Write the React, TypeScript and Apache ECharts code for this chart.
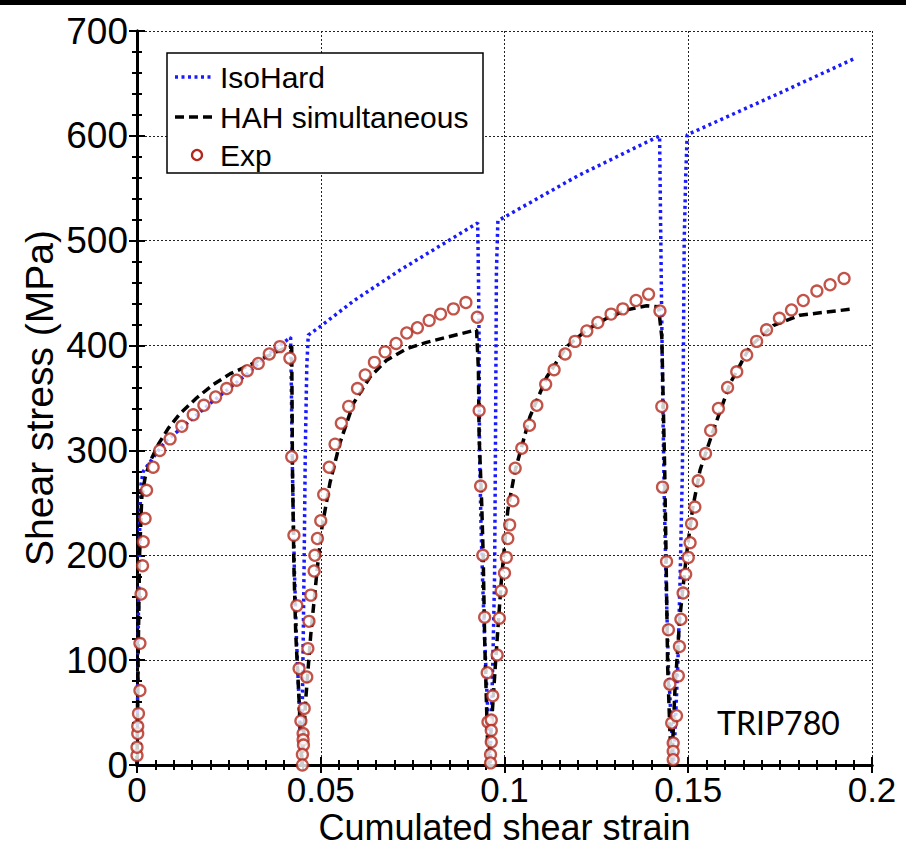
import React, { useEffect, useRef } from "react";
import * as echarts from "echarts";

// Cumulated shear strain ticks and shear stress ticks
const xTicks = [0, 0.05, 0.1, 0.15, 0.2];
const yTicks = [0, 100, 200, 300, 400, 500, 600, 700];

// IsoHard model (strain, stress MPa)
const isoHard: [number, number][] = [
  [0, 0], [0.0004, 150], [0.0008, 240], [0.0011, 268], [0.0017, 280], [0.0058, 300], [0.0076, 308],
  [0.02, 345], [0.03, 373], [0.0357, 392], [0.0407, 405], [0.0418, 408],
  [0.042, 360], [0.0423, 280], [0.0428, 190], [0.0434, 120], [0.0441, 60], [0.0446, 15], [0.0448, 0],
  [0.045, 60], [0.0452, 110], [0.0455, 200], [0.0458, 300], [0.0462, 380], [0.0466, 410],
  [0.0498, 418], [0.0591, 443], [0.0716, 472], [0.0927, 517],
  [0.0929, 470], [0.0931, 400], [0.0932, 300], [0.0936, 230], [0.0941, 170], [0.0946, 120], [0.0952, 70], [0.0958, 25], [0.0961, 0],
  [0.0964, 40], [0.0969, 110], [0.0973, 180], [0.0975, 280], [0.0977, 400], [0.0978, 470], [0.0982, 519],
  [0.12, 562], [0.1422, 600],
  [0.1424, 540], [0.1427, 450], [0.1431, 340], [0.1435, 250], [0.144, 170], [0.1446, 93], [0.1453, 45], [0.1458, 15], [0.146, 0],
  [0.1465, 40], [0.1472, 100], [0.1478, 180], [0.1484, 280], [0.1487, 400], [0.1489, 500], [0.1493, 560], [0.1497, 601],
  [0.175, 641], [0.1954, 674],
];

// HAH simultaneous model
const hahSimultaneous: [number, number][] = [
  [0, 0], [0.0003, 100], [0.0007, 200], [0.0013, 255], [0.0022, 274], [0.0035, 289], [0.006, 307], [0.0085, 321],
  [0.0117, 335], [0.0162, 350], [0.0208, 363], [0.0253, 373], [0.0298, 380], [0.0344, 388], [0.0398, 397], [0.0421, 399],
  [0.0423, 284], [0.0427, 189], [0.0432, 125], [0.0441, 62], [0.0446, 21], [0.0449, 0],
  [0.0459, 62], [0.0473, 125], [0.0491, 189], [0.0503, 226], [0.0525, 269], [0.0552, 307], [0.0589, 345], [0.0634, 370],
  [0.0679, 386], [0.0734, 397], [0.0788, 403], [0.0843, 408], [0.0924, 415],
  [0.0929, 377], [0.0931, 313], [0.0938, 249], [0.0942, 200], [0.0946, 120], [0.095, 71], [0.0954, 20], [0.0957, 0],
  [0.0964, 36], [0.0977, 105], [0.0991, 174], [0.1009, 243], [0.1029, 281], [0.1069, 332], [0.1115, 370], [0.1169, 399],
  [0.1224, 415], [0.1278, 426], [0.1332, 434], [0.1387, 438], [0.1419, 437],
  [0.1428, 408], [0.1432, 345], [0.1436, 280], [0.1439, 214], [0.1444, 93], [0.145, 33], [0.1455, 0],
  [0.1464, 73], [0.1477, 140], [0.1495, 200], [0.1512, 245], [0.1532, 281], [0.1568, 319], [0.1614, 364], [0.1668, 399],
  [0.1731, 419], [0.1804, 429], [0.1877, 432], [0.1949, 435],
];

// Experimental points
const expPoints: [number, number][] = [
  [0, 9], [0, 17], [0.0002, 30], [0.0002, 37], [0.0004, 49], [0.0008, 71], [0.0008, 116], [0.0011, 163], [0.0015, 190],
  [0.0017, 213], [0.0022, 235], [0.0026, 262], [0.0044, 284], [0.0062, 300], [0.009, 311], [0.0122, 323], [0.0153, 334],
  [0.0182, 343], [0.0214, 351], [0.0244, 359], [0.0271, 367], [0.03, 376], [0.033, 383], [0.036, 392], [0.0389, 399], [0.0416, 388],
  [0.0421, 294], [0.0427, 219], [0.0435, 152], [0.0441, 92], [0.0446, 42], [0.0452, 30], [0.0452, 24], [0.0453, 19], [0.045, 10], [0.045, 0],
  [0.0455, 54], [0.0462, 84], [0.0465, 111], [0.0468, 137], [0.0473, 162], [0.0482, 185], [0.0484, 200], [0.0491, 216], [0.05, 233],
  [0.0508, 258], [0.0523, 284], [0.0539, 306], [0.0556, 326], [0.0576, 342], [0.06, 359], [0.0621, 372], [0.0646, 384], [0.0675, 394],
  [0.0705, 402], [0.0734, 412], [0.0763, 417], [0.0795, 424], [0.0826, 430], [0.0861, 435], [0.0895, 441], [0.0926, 427],
  [0.0931, 338], [0.0935, 266], [0.0941, 200], [0.0946, 141], [0.0953, 88], [0.0955, 41], [0.0964, 43], [0.0964, 33], [0.0964, 22],
  [0.0962, 10], [0.0962, 2],
  [0.0968, 66], [0.098, 105], [0.0986, 140], [0.0991, 166], [0.1, 183], [0.1005, 198], [0.1009, 216], [0.1014, 229], [0.1023, 252],
  [0.1029, 283], [0.1047, 302], [0.1068, 324], [0.1088, 343], [0.1112, 363], [0.1135, 377], [0.1165, 392], [0.1192, 404], [0.1224, 414],
  [0.1254, 422], [0.129, 430], [0.1322, 435], [0.1358, 443], [0.1392, 449], [0.1423, 433],
  [0.1428, 342], [0.143, 265], [0.1441, 194], [0.1446, 129], [0.145, 77], [0.1455, 40], [0.1459, 21], [0.1459, 13], [0.1459, 5],
  [0.1468, 47], [0.1473, 85], [0.1476, 113], [0.148, 139], [0.1486, 164], [0.1493, 182], [0.15, 198], [0.1505, 212], [0.1509, 230],
  [0.1518, 246], [0.1527, 271], [0.1547, 297], [0.1561, 319], [0.1582, 340], [0.1607, 360], [0.1632, 375], [0.1659, 391], [0.1686, 404],
  [0.1713, 415], [0.1748, 426], [0.1781, 434], [0.1813, 443], [0.185, 452], [0.1886, 458], [0.1924, 464],
];

const seriesNames = ["IsoHard", "HAH simultaneous", "Exp"];
const BLUE = "#1a1aff";
const RED = "#b3281c";
const FONT = "Liberation Sans, Arial, sans-serif";

export default function App() {
  const ref = useRef<HTMLDivElement>(null);
  useEffect(() => {
    if (!ref.current) return;
    const chart = echarts.init(ref.current, undefined, { renderer: "svg" });
    const tickCommon = {
      axisTick: { show: true, inside: true, length: 8, lineStyle: { color: "#000", width: 2 } },
      minorTick: { show: true, length: 5, lineStyle: { color: "#000", width: 2 } },
      axisLine: { show: true, lineStyle: { color: "#000", width: 3 } },
    };
    const xCommon = {
      type: "value",
      min: xTicks[0],
      max: xTicks[xTicks.length - 1],
      interval: 0.05,
      ...tickCommon,
      minorTick: { ...tickCommon.minorTick, splitNumber: 10 },
    };
    const yCommon = {
      type: "value",
      min: yTicks[0],
      max: yTicks[yTicks.length - 1],
      interval: 100,
      ...tickCommon,
      minorTick: { ...tickCommon.minorTick, splitNumber: 5 },
    };
    const legendX = 167;
    const legendY = 53;
    chart.setOption({
      animation: false,
      backgroundColor: "#fff",
      grid: { left: 137, top: 31, width: 735, height: 734, containLabel: false, outerBoundsMode: "none" },
      xAxis: [
        {
          ...xCommon,
          position: "bottom",
          name: "Cumulated shear strain",
          nameLocation: "middle",
          nameGap: 44,
          nameMoveOverlap: false,
          nameTextStyle: { fontFamily: FONT, fontSize: 36, color: "#000" },
          axisLabel: {
            show: true,
            margin: 7,
            fontFamily: FONT,
            fontSize: 35,
            color: "#000",
            formatter: (v: number) => String(Math.round(v * 100) / 100),
          },
          splitLine: { show: true, lineStyle: { color: "#222", width: 1, type: [2, 2] } },
        },
        {
          ...xCommon,
          position: "top",
          axisLabel: { show: false },
          splitLine: { show: false },
        },
      ],
      yAxis: [
        {
          ...yCommon,
          position: "left",
          name: "Shear stress (MPa)",
          nameLocation: "middle",
          nameGap: 78,
          nameMoveOverlap: false,
          nameTextStyle: { fontFamily: FONT, fontSize: 39, color: "#000" },
          axisLabel: { show: true, margin: 9, fontFamily: FONT, fontSize: 37, color: "#000" },
          splitLine: { show: true, lineStyle: { color: "#222", width: 1, type: [2, 2] } },
        },
        {
          ...yCommon,
          position: "right",
          axisLabel: { show: false },
          splitLine: { show: false },
        },
      ],
      series: [
        {
          name: seriesNames[0],
          type: "line",
          data: isoHard,
          showSymbol: false,
          symbol: "none",
          lineStyle: { color: BLUE, width: 3.5, type: [3, 3.5] },
          z: 2,
        },
        {
          name: seriesNames[1],
          type: "line",
          data: hahSimultaneous,
          showSymbol: false,
          symbol: "none",
          lineStyle: { color: "#000", width: 3.5, type: [9, 5] },
          z: 3,
        },
        {
          name: seriesNames[2],
          type: "scatter",
          data: expPoints,
          symbol: "circle",
          symbolSize: 11,
          itemStyle: { color: "#fff", borderColor: RED, borderWidth: 2.3 },
          z: 4,
        },
      ],
      graphic: [
        { type: "rect", left: 0, top: 0, shape: { width: 906, height: 5 }, style: { fill: "#000" }, z: 100 },
        {
          type: "rect",
          shape: { x: legendX, y: legendY, width: 316, height: 120 },
          style: { fill: "#fff", stroke: "#000", lineWidth: 1.5 },
          z: 100,
        },
        {
          type: "line",
          shape: { x1: legendX + 8, y1: legendY + 24, x2: legendX + 46, y2: legendY + 24 },
          style: { stroke: BLUE, lineWidth: 3.5, lineDash: [3, 3.5] },
          z: 101,
        },
        {
          type: "line",
          shape: { x1: legendX + 8, y1: legendY + 64, x2: legendX + 46, y2: legendY + 64 },
          style: { stroke: "#000", lineWidth: 3.5, lineDash: [9, 5] },
          z: 101,
        },
        {
          type: "circle",
          shape: { cx: legendX + 30, cy: legendY + 102, r: 5 },
          style: { fill: "#fff", stroke: RED, lineWidth: 2.3 },
          z: 101,
        },
        {
          type: "text",
          x: legendX + 53,
          y: legendY + 24,
          style: { text: seriesNames[0], font: `30px ${FONT}`, fill: "#000", verticalAlign: "middle" },
          z: 101,
        },
        {
          type: "text",
          x: legendX + 53,
          y: legendY + 64,
          style: { text: seriesNames[1], font: `30px ${FONT}`, fill: "#000", verticalAlign: "middle" },
          z: 101,
        },
        {
          type: "text",
          x: legendX + 53,
          y: legendY + 102,
          style: { text: seriesNames[2], font: `30px ${FONT}`, fill: "#000", verticalAlign: "middle" },
          z: 101,
        },
        {
          type: "text",
          x: 717,
          y: 722,
          style: { text: "TRIP780", font: `32px Lato, "Open Sans", sans-serif`, fill: "#000", verticalAlign: "middle" },
          z: 101,
        },
      ],
    });
    return () => chart.dispose();
  }, []);
  return (
    <div
      ref={ref}
      style={{ position: "absolute", left: 0, top: 0, width: 906, height: 847, background: "#fff" }}
    />
  );
}
